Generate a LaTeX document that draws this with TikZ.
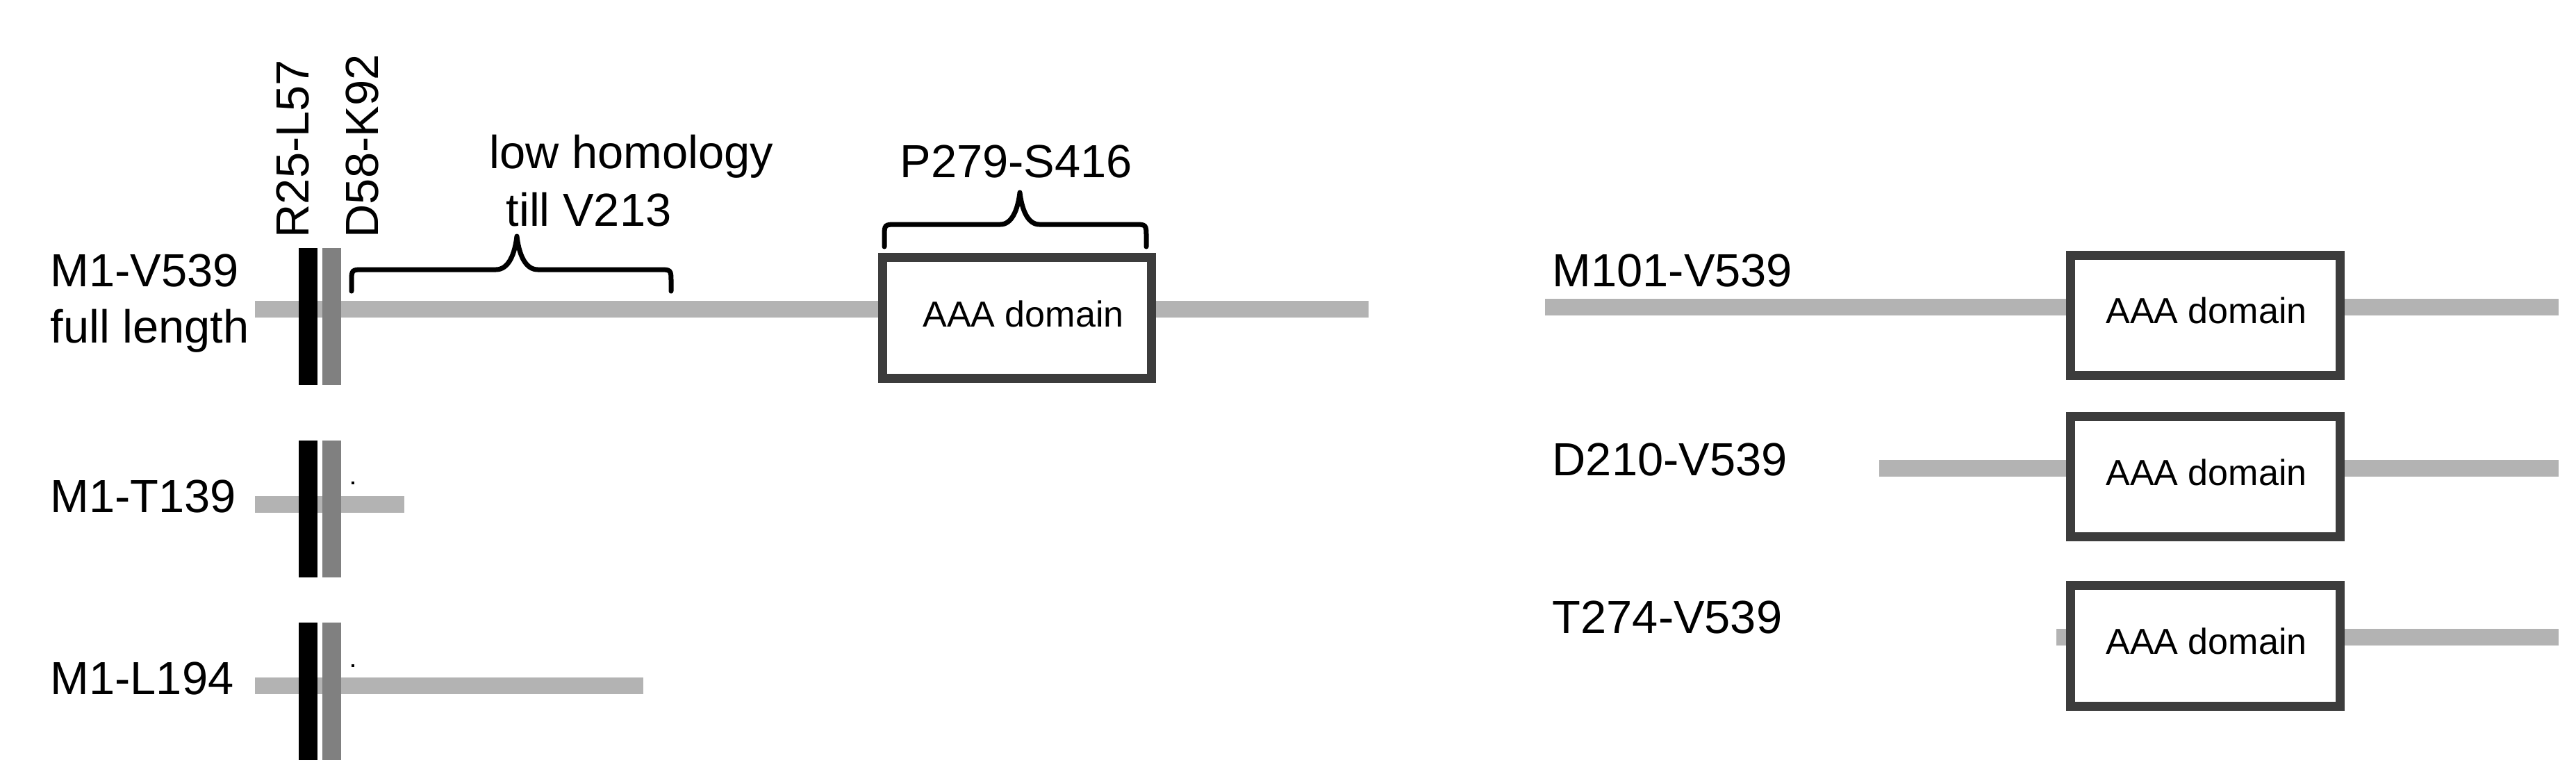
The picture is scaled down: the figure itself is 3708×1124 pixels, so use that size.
\documentclass[tikz,border=0pt]{standalone}
\usepackage{fontspec}
\setmainfont{Liberation Sans}
\definecolor{lgray}{HTML}{B3B3B3}
\definecolor{mgray}{HTML}{808080}
\definecolor{boxgray}{HTML}{3C3C3C}
\begin{document}
\begin{tikzpicture}[x=0.01cm,y=-0.01cm,
  lab/.style={font=\fontsize{19}{23}\selectfont, inner sep=0, anchor=base west},
  rlab/.style={font=\fontsize{19}{23}\selectfont, inner sep=0, anchor=base west, rotate=90},
  aaa/.style={font=\fontsize{14.8}{17}\selectfont, inner sep=0},
  chain/.style={line width=0.24cm, draw=lgray},
  domainbox/.style={draw=boxgray, line width=0.13cm, fill=white, minimum width=3.87cm, minimum height=1.73cm, inner sep=0},
  blackbar/.style={fill=black, minimum width=0.27cm, minimum height=1.97cm, inner sep=0},
  graybar/.style={fill=mgray, minimum width=0.27cm, minimum height=1.97cm, inner sep=0},
  bracepath/.style={line width=0.07cm, line cap=round, line join=round}
]
\useasboundingbox (0,0) rectangle (3708,1124);
\fill[white] (0,0) rectangle (3708,1124);

% ---------- left: full length ----------
\coordinate (l1s) at (367,445);
\coordinate (l1e) at (1970,445);
\draw[chain] (l1s) -- (l1e);
\node[domainbox] (box1) at (1464,457.5) {};
\node[aaa] (t1) at (1473,452) {AAA domain};
\node[blackbar] (k1) at (443.5,455.5) {};
\node[graybar] (g1) at (477.5,455.5) {};
\node[lab] (lab1a) at (72,412) {M1-V539};
\node[lab] (lab1b) at (72,493) {full length};
\node[rlab] (r25) at (444,343) {R25-L57};
\node[rlab] (d58) at (544,343) {D58-K92};
\node[lab] (low) at (704,242) {low homology};
\node[lab] (till) at (728,325) {till V213};
\node[lab] (p279) at (1295,255) {P279-S416};
\draw[bracepath] (506,419) -- (506,406) .. controls (506,388) .. (524,388) -- (714,388)
  .. controls (732,388) and (741,366) .. (744,340)
  .. controls (747,366) and (756,388) .. (774,388) -- (948,388)
  .. controls (966,388) .. (966,406) -- (966,419);
\draw[bracepath] (1273,355) -- (1273,341) .. controls (1273,323) .. (1291,323) -- (1440,323)
  .. controls (1456,323) and (1465,303) .. (1468,277)
  .. controls (1471,303) and (1480,323) .. (1496,323) -- (1632,323)
  .. controls (1650,323) .. (1650,341) -- (1650,355);

% ---------- left: M1-T139 ----------
\coordinate (l2s) at (367,726);
\coordinate (l2e) at (582,726);
\draw[chain] (l2s) -- (l2e);
\node[blackbar] (k2) at (443.5,732.5) {};
\node[graybar] (g2) at (477.5,732.5) {};
\node[lab] (lab2) at (72,737) {M1-T139};
\fill (506,693) rectangle (510,697);

% ---------- left: M1-L194 ----------
\coordinate (l3s) at (367,987);
\coordinate (l3e) at (926,987);
\draw[chain] (l3s) -- (l3e);
\node[blackbar] (k3) at (443.5,995) {};
\node[graybar] (g3) at (477.5,995) {};
\node[lab] (lab3) at (72,999) {M1-L194};
\fill (506,956) rectangle (510,960);

% ---------- right: M101-V539 ----------
\coordinate (r1s) at (2224,442);
\coordinate (r1e) at (3683,442);
\draw[chain] (r1s) -- (r1e);
\node[domainbox] (box2) at (3174.5,454) {};
\node[aaa] (t2) at (3176,447) {AAA domain};
\node[lab] (lab4) at (2234,412) {M101-V539};

% ---------- right: D210-V539 ----------
\coordinate (r2s) at (2705,674);
\coordinate (r2e) at (3683,674);
\draw[chain] (r2s) -- (r2e);
\node[domainbox] (box3) at (3174.5,686) {};
\node[aaa] (t3) at (3176,680) {AAA domain};
\node[lab] (lab5) at (2234,684) {D210-V539};

% ---------- right: T274-V539 ----------
\coordinate (r3s) at (2960,917);
\coordinate (r3e) at (3683,917);
\draw[chain] (r3s) -- (r3e);
\node[domainbox] (box4) at (3174.5,929.5) {};
\node[aaa] (t4) at (3176,923) {AAA domain};
\node[lab] (lab6) at (2234,911) {T274-V539};
\end{tikzpicture}
\end{document}
